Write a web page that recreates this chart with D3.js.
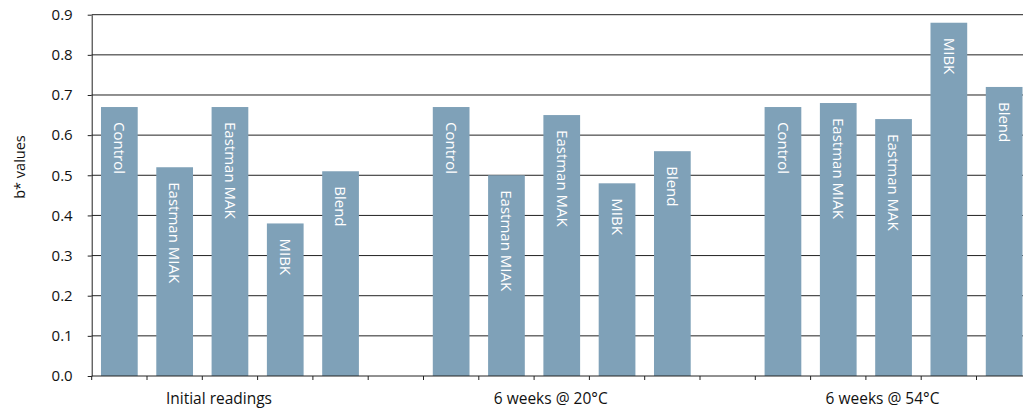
<!DOCTYPE html>
<html><head><meta charset="utf-8">
<script src="https://cdn.jsdelivr.net/npm/d3@7"></script>
<style>body{margin:0;background:#fff}svg{display:block}text{font-family:"Open Sans",sans-serif}</style>
</head><body><svg id="c" width="1023" height="408"></svg>
<script>
const groups = ["Initial readings", "6 weeks @ 20°C", "6 weeks @ 54°C"];
const seriesGroup1 = ["Control", "Eastman MIAK", "Eastman MAK", "MIBK", "Blend"];
const seriesGroup2 = ["Control", "Eastman MIAK", "Eastman MAK", "MIBK", "Blend"];
const seriesGroup3 = ["Control", "Eastman MIAK", "Eastman MAK", "MIBK", "Blend"];
const valuesGroup1 = [0.67, 0.52, 0.67, 0.38, 0.51];
const valuesGroup2 = [0.67, 0.50, 0.65, 0.48, 0.56];
const valuesGroup3 = [0.67, 0.68, 0.64, 0.88, 0.72];
const yTicks = [0, 0.1, 0.2, 0.3, 0.4, 0.5, 0.6, 0.7, 0.8, 0.9];
const yTitle = "b* values";

(function () {
const labels = [seriesGroup1, seriesGroup2, seriesGroup3];
const values = [valuesGroup1, valuesGroup2, valuesGroup3];
const slots = [];
const bars = [];
groups.forEach((g, gi) => {
  labels[gi].forEach((s, si) => {
    const key = gi + "-" + si;
    slots.push(key);
    bars.push({key, group: gi, name: s, value: values[gi][si]});
  });
  if (gi < groups.length - 1) slots.push("gap" + gi);
});

const svg = d3.select("#c");
const mLeft = 91.7, mRight = 1031.8, mTop = 14.7, mBottom = 376;
const x = d3.scaleBand().domain(slots).range([mLeft, mRight]).paddingInner(0.336).paddingOuter(0.168);
const y = d3.scaleLinear().domain([0, 0.9]).range([mBottom, mTop]);

// gridlines
svg.append("g").selectAll("line").data(yTicks.filter(d => d > 0)).join("line")
  .attr("x1", mLeft).attr("x2", mRight).attr("y1", d => y(d)).attr("y2", d => y(d))
  .attr("stroke", "#222").attr("stroke-width", 1);

// bars
svg.append("g").selectAll("rect").data(bars).join("rect")
  .attr("x", d => x(d.key)).attr("width", x.bandwidth())
  .attr("y", d => y(d.value)).attr("height", d => y(0) - y(d.value))
  .attr("fill", "#7fa1b8");

// bar labels
svg.append("g").selectAll("text").data(bars).join("text")
  .attr("transform", d => `translate(${x(d.key) + x.bandwidth() / 2},${y(d.value) + 15}) rotate(90)`)
  .attr("dy", "0.35em").attr("fill", "#fff").attr("font-size", 15)
  .text(d => d.name);

// y axis
const yAxis = svg.append("g").attr("transform", `translate(${mLeft},0)`)
  .call(d3.axisLeft(y).tickValues(yTicks).tickFormat(d3.format(".1f")).tickSize(4).tickSizeOuter(0));
yAxis.attr("font-size", 15).attr("font-family", '"Open Sans",sans-serif');
yAxis.select(".domain").attr("stroke", "#222");
yAxis.selectAll(".tick line").attr("stroke", "#222");
yAxis.selectAll(".tick text").attr("fill", "#111").attr("x", -19);

// x axis baseline and ticks
const step = x.step();
const tickPos = d3.range(slots.length + 1).map(i => mLeft + i * step);
svg.append("line").attr("x1", mLeft).attr("x2", mRight).attr("y1", mBottom).attr("y2", mBottom)
  .attr("stroke", "#222");
svg.append("g").selectAll("line").data(tickPos).join("line")
  .attr("x1", d => d).attr("x2", d => d).attr("y1", mBottom).attr("y2", mBottom + 4)
  .attr("stroke", "#222");

// group labels
svg.append("g").selectAll("text").data(groups).join("text")
  .attr("x", (g, gi) => x(gi + "-2") + x.bandwidth() / 2 - 11)
  .attr("y", 404).attr("text-anchor", "middle").attr("font-size", 15.5).attr("fill", "#111")
  .text(d => d);

// y title
svg.append("text").attr("transform", "translate(25,167) rotate(-90)")
  .attr("text-anchor", "middle").attr("font-size", 14.5).attr("fill", "#111").text(yTitle);
})();
</script></body></html>
